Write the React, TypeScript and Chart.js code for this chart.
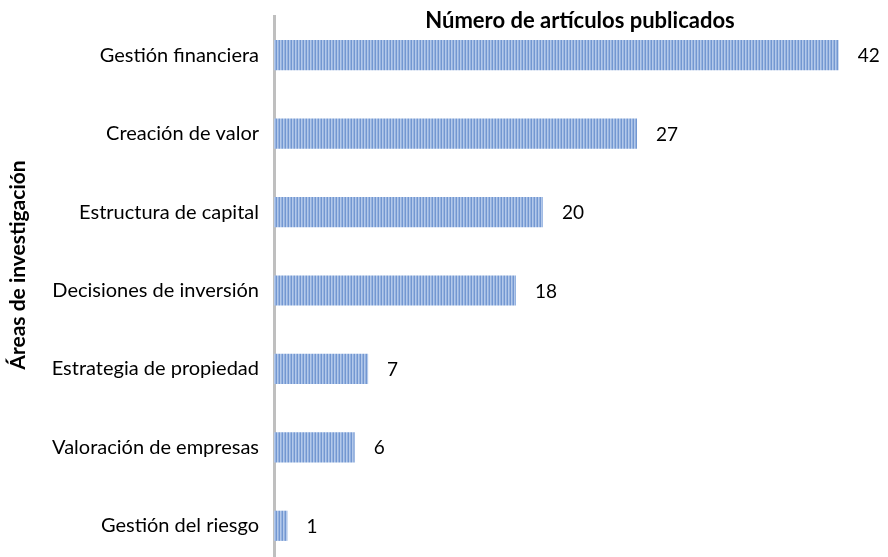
import React, { useEffect, useRef } from "react";
import { Chart, registerables } from "chart.js";

Chart.register(...registerables);

const categories = [
  "Gestión financiera",
  "Creación de valor",
  "Estructura de capital",
  "Decisiones de inversión",
  "Estrategia de propiedad",
  "Valoración de empresas",
  "Gestión del riesgo",
];
const values = [42, 27, 20, 18, 7, 6, 1];
const chartTitle = "Número de artículos publicados";
const yTitle = "Áreas de investigación";

const FONT = "Lato, 'Open Sans', sans-serif";

function makePattern(): CanvasPattern | string {
  const c = document.createElement("canvas");
  c.width = 3;
  c.height = 1;
  const g = c.getContext("2d");
  if (!g) return "#8FAEDD";
  g.fillStyle = "#7397D1";
  g.fillRect(0, 0, 1, 1);
  g.fillStyle = "#B4C9EA";
  g.fillRect(1, 0, 1, 1);
  g.fillStyle = "#96B3E0";
  g.fillRect(2, 0, 1, 1);
  const ctx2 = document.createElement("canvas").getContext("2d");
  return (ctx2 && ctx2.createPattern(c, "repeat")) || "#8FAEDD";
}

const textPlugin = {
  id: "texts",
  afterDatasetsDraw(chart: any) {
    const { ctx } = chart;
    const meta = chart.getDatasetMeta(0);
    ctx.save();
    ctx.fillStyle = "#000";
    ctx.font = `19px ${FONT}`;
    ctx.textAlign = "left";
    ctx.textBaseline = "middle";
    meta.data.forEach((bar: any, i: number) => {
      ctx.fillText(String(values[i]), bar.x + 19, bar.y + 1);
    });
    ctx.font = `bold 22px ${FONT}`;
    ctx.textAlign = "center";
    ctx.fillText(chartTitle, 580, 21);
    ctx.font = `bold 21px ${FONT}`;
    ctx.translate(18, 265);
    ctx.rotate(-Math.PI / 2);
    ctx.fillText(yTitle, 0, 0);
    ctx.restore();
  },
};

export default function App() {
  const ref = useRef<HTMLCanvasElement>(null);
  useEffect(() => {
    document.body.style.margin = "0";
    const canvas = ref.current;
    if (!canvas) return;
    const chart = new Chart(canvas, {
      type: "bar",
      data: {
        labels: categories,
        datasets: [
          {
            data: values,
            backgroundColor: makePattern() as any,
            borderWidth: 0,
            categoryPercentage: 1,
            barPercentage: 0.385,
          },
        ],
      },
      options: {
        indexAxis: "y",
        responsive: false,
        animation: false,
        layout: { padding: { top: 16, right: 9, bottom: 0, left: 0 } },
        plugins: {
          legend: { display: false },
          title: { display: false },
          tooltip: { enabled: false },
        },
        scales: {
          x: {
            display: false,
            min: 0,
            max: 45,
          },
          y: {
            z: 1,
            grid: { display: false, drawTicks: false },
            border: { display: true, color: "#BFBFBF", width: 3 },
            ticks: {
              padding: 15,
              color: "#000",
              font: { family: FONT, size: 20 },
            },
            afterFit(scale: any) {
              scale.width = 274;
              scale.paddingTop = 0;
              scale.paddingBottom = 0;
            },
          },
        },
      },
      plugins: [textPlugin],
    });
    return () => chart.destroy();
  }, []);
  return (
    <div style={{ width: 888, height: 557, overflow: "hidden", background: "#fff" }}>
      <canvas ref={ref} width={888} height={565} style={{ display: "block" }} />
    </div>
  );
}
